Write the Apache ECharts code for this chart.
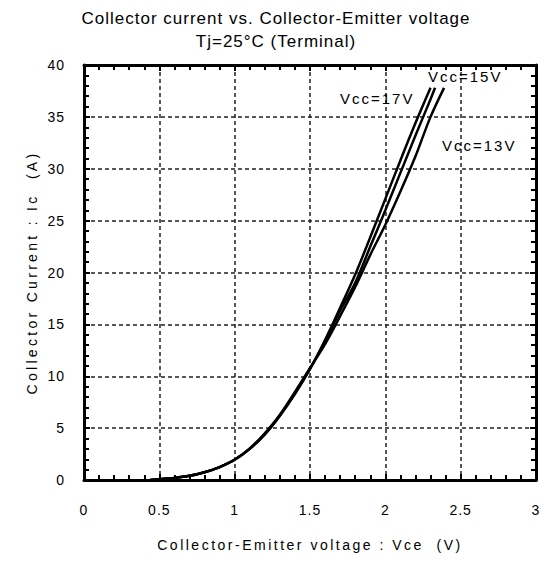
<!DOCTYPE html>
<html>
<head>
<meta charset="utf-8">
<script src="https://cdn.jsdelivr.net/npm/echarts@6/dist/echarts.min.js"></script>
<style>html,body{margin:0;padding:0;background:#fff}#c{width:552px;height:563px}</style>
</head>
<body>
<div id="c"></div>
<script>
// Vce (V) samples for each curve, Ic (A) values
const vce17 = [0.44, 0.5, 0.6, 0.7, 0.8, 0.9, 1.0, 1.1, 1.2, 1.3, 1.4, 1.5, 1.6, 1.7, 1.8, 1.9, 2.0, 2.1, 2.2, 2.3];
const ic17  = [0.0, 0.08, 0.2, 0.4, 0.75, 1.25, 1.95, 3.0, 4.4, 6.2, 8.3, 10.7, 13.5, 16.6, 19.8, 23.4, 27.1, 30.8, 34.4, 37.8];
const vce15 = [0.44, 0.5, 0.6, 0.7, 0.8, 0.9, 1.0, 1.1, 1.2, 1.3, 1.4, 1.5, 1.6, 1.7, 1.8, 1.9, 2.0, 2.1, 2.2, 2.3, 2.33];
const ic15  = [0.0, 0.08, 0.2, 0.4, 0.75, 1.25, 1.95, 3.0, 4.4, 6.2, 8.3, 10.7, 13.4, 16.3, 19.0, 22.5, 26.0, 29.6, 33.2, 36.7, 37.8];
const vce13 = [0.44, 0.5, 0.6, 0.7, 0.8, 0.9, 1.0, 1.1, 1.2, 1.3, 1.4, 1.5, 1.6, 1.7, 1.8, 1.9, 2.0, 2.1, 2.2, 2.3, 2.39];
const ic13  = [0.0, 0.08, 0.2, 0.4, 0.75, 1.25, 1.97, 3.05, 4.5, 6.3, 8.5, 10.8, 13.1, 15.8, 18.6, 21.7, 24.6, 27.8, 31.2, 35.0, 37.8];
const curveLabels = ['Vcc=17V', 'Vcc=15V', 'Vcc=13V'];
const xTicks = [0, 0.5, 1, 1.5, 2, 2.5, 3];
const yTicks = [0, 5, 10, 15, 20, 25, 30, 35, 40];
const titleText = 'Collector current vs. Collector-Emitter voltage\nTj=25°C (Terminal)';
const xName = 'Collector-Emitter voltage : Vce  (V)';
const yName = 'Collector Current : Ic  (A)';

const pairs = (xs, ys) => xs.map((x, i) => [x, ys[i]]);
const FONT = '"Liberation Sans", Arial, sans-serif';

const chart = echarts.init(document.getElementById('c'), null, {renderer: 'svg'});
const gridLine = {show: true, lineStyle: {color: '#222', type: [4, 3], width: 1.5}};
const baseAxis = {
  axisLine: {show: true, onZero: false, lineStyle: {color: '#000', width: 3}},
  axisTick: {show: true, inside: true, length: 6, lineStyle: {color: '#000', width: 2}},
  minorTick: {show: true, splitNumber: 5, length: 5, lineStyle: {color: '#000', width: 2}},
  axisLabel: {color: '#000', fontFamily: FONT, fontSize: 14}
};
const lineSeries = (name, data) => ({
  name, type: 'line', data, showSymbol: false, smooth: 0.35,
  xAxisIndex: 0, yAxisIndex: 0,
  lineStyle: {color: '#000', width: 2.5}, z: 3
});

chart.setOption({
  animation: false,
  backgroundColor: '#fff',
  title: {
    text: titleText,
    left: 'center', top: 2,
    textStyle: {color: '#000', fontFamily: FONT, fontSize: 17, fontWeight: 'normal', lineHeight: 23}
  },
  grid: {left: 84, right: 16, top: 65, bottom: 83, containLabel: false},
  xAxis: [
    Object.assign({}, baseAxis, {
      type: 'value', min: 0, max: 3, interval: 0.5, position: 'bottom',
      splitLine: gridLine,
      axisLabel: Object.assign({}, baseAxis.axisLabel, {margin: 23, formatter: v => String(v)}),
      name: xName, nameLocation: 'middle', nameGap: 58,
      nameTextStyle: {color: '#000', fontFamily: FONT, fontSize: 14}
    }),
    Object.assign({}, baseAxis, {
      type: 'value', min: 0, max: 3, interval: 0.5, position: 'top',
      splitLine: {show: false}, axisLabel: {show: false}
    })
  ],
  yAxis: [
    Object.assign({}, baseAxis, {
      type: 'value', min: 0, max: 40, interval: 5, position: 'left',
      splitLine: gridLine,
      axisLabel: Object.assign({}, baseAxis.axisLabel, {margin: 19}),
      name: yName, nameLocation: 'middle', nameGap: 42, nameRotate: 90,
      nameTextStyle: {color: '#000', fontFamily: FONT, fontSize: 14}
    }),
    Object.assign({}, baseAxis, {
      type: 'value', min: 0, max: 40, interval: 5, position: 'right',
      splitLine: {show: false}, axisLabel: {show: false}
    })
  ],
  series: [
    lineSeries(curveLabels[0], pairs(vce17, ic17)),
    lineSeries(curveLabels[1], pairs(vce15, ic15)),
    lineSeries(curveLabels[2], pairs(vce13, ic13))
  ],
  graphic: [
    {type: 'text', left: 340, top: 91, z: 10, style: {text: curveLabels[0], fill: '#000', font: '15px ' + FONT}},
    {type: 'text', left: 428, top: 69, z: 10, style: {text: curveLabels[1], fill: '#000', font: '15px ' + FONT}},
    {type: 'text', left: 442, top: 138, z: 10, style: {text: curveLabels[2], fill: '#000', font: '15px ' + FONT}}
  ]
});

// Widen character spacing of the texts to match the reference typography
function spaceText() {
  document.querySelectorAll('#c svg text').forEach(el => {
    const t = el.textContent;
    let s = '1px';
    if (t === yName) s = '3.3px';
    else if (t === xName) s = '2.5px';
    else if (curveLabels.includes(t)) s = '2px';
    el.setAttribute('letter-spacing', s);
    el.style.letterSpacing = s;
  });
}
spaceText();
chart.on('finished', spaceText);
setTimeout(spaceText, 50);
</script>
</body>
</html>
